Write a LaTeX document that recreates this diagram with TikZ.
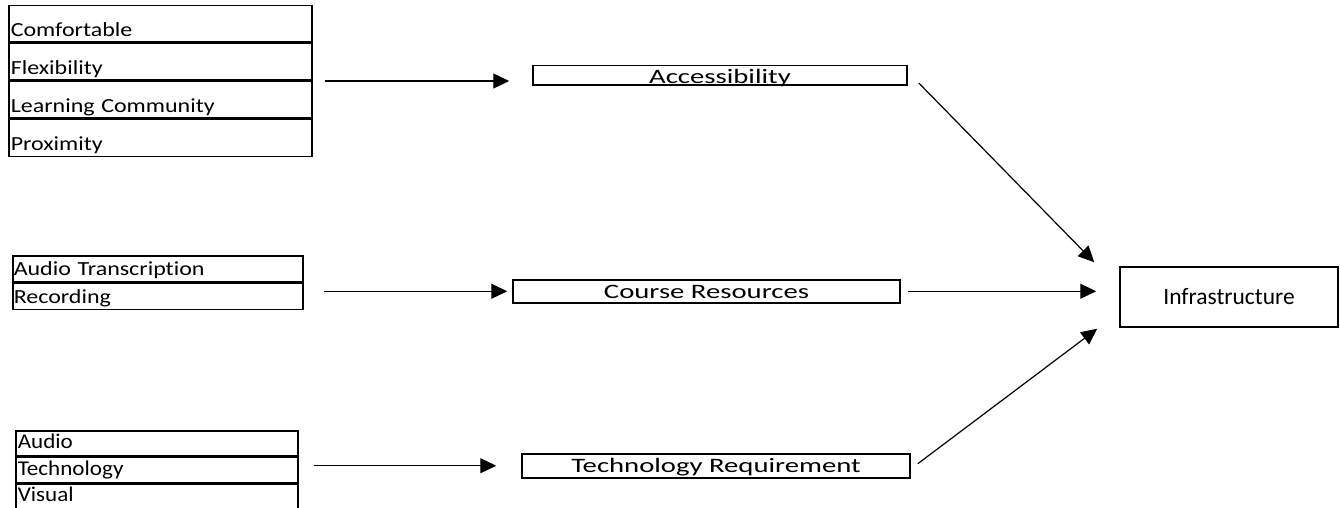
\documentclass[tikz,border=0pt]{standalone}
\usepackage{fontspec}
\setmainfont{Carlito}[Ligatures=NoCommon]
\newfontfamily\listfont[FakeStretch=1.2, Ligatures=NoCommon]{Carlito}
\newfontfamily\smallfont[FakeStretch=1.1, Ligatures=NoCommon]{Carlito}
\newfontfamily\boxfont[FakeStretch=1.4, Ligatures=NoCommon]{Carlito}
\usetikzlibrary{arrows.meta, positioning}

\tikzset{
    >={Triangle[length=16pt, width=15pt]},
    cell/.style={draw, line width=1.5pt, anchor=north west, inner xsep=2pt, inner ysep=0pt, align=left},
    rowA/.style={cell, text width=299pt, text height=31pt, text depth=5.5pt, font=\listfont\fontsize{20pt}{24pt}\selectfont},
    rowB/.style={cell, inner xsep=1pt, text width=288pt, text height=20pt, text depth=6pt, font=\listfont\fontsize{20pt}{24pt}\selectfont},
    rowC/.style={cell, text width=278pt, text height=18pt, text depth=7pt, font=\smallfont\fontsize{21pt}{25pt}\selectfont},
    factor/.style={draw, line width=1.5pt, anchor=north, inner sep=0pt, font=\boxfont\fontsize{20.5pt}{24pt}\selectfont},
    link/.style={->, line width=1.2pt}
}

\begin{document}
\begin{tikzpicture}[x=1pt, y=-1pt]
    \clip (0,0) rectangle (1340,508);

    % left lists
    \node[rowA] (comfort) at (8,5) {Comfortable};
    \node[rowA, below=0pt of comfort] (flexi) {Flexibility};
    \node[rowA, below=0pt of flexi] (community) {Learning Community};
    \node[rowA, below=0pt of community] (proximity) {Proximity};

    \node[rowB] (transcript) at (12,255) {Audio Transcription};
    \node[rowB, below=0pt of transcript] (recording) {Recording};

    \node[rowC] (audio) at (15,430) {Audio};
    \node[rowC, below=0pt of audio] (technology) {Technology};
    \node[rowC, below=0pt of technology, text depth=9.5pt] (visual) {Visual};

    % factors
    \node[factor, minimum width=374pt, text height=17.5pt, text depth=2pt] (access) at (720,65) {Accessibility};
    \node[factor, minimum width=387pt, text height=19pt, text depth=4pt] (resources) at (706.5,279) {Course Resources};
    \node[factor, minimum width=388pt, text height=18.5pt, text depth=5.5pt] (techreq) at (716,453) {Technology Requirement};

    \node[draw, line width=1.5pt, minimum width=218pt, minimum height=60pt, font=\fontsize{23.5pt}{28pt}\selectfont] (infra) at (1229,297) {Infrastructure};

    \draw[link, shorten <=12pt, shorten >=23pt] (flexi.south east) -- (flexi.south east -| access.west);
    \draw[link, shorten <=20pt, shorten >=5pt] (recording.east |- resources.west) -- (resources.west);
    \draw[link, shorten <=15pt, shorten >=25pt] (technology.east |- techreq.west) -- (techreq.west);

    \draw[link] ([xshift=11pt, yshift=3pt]access.south east) -- ([xshift=-25pt, yshift=4pt]infra.north west);
    \draw[link, shorten <=7pt, shorten >=23pt] (resources.east) -- (resources.east -| infra.west);
    \draw[link] ([xshift=7pt, yshift=2pt]techreq.east) -- ([xshift=-22pt, yshift=-1pt]infra.south west);
\end{tikzpicture}
\end{document}
